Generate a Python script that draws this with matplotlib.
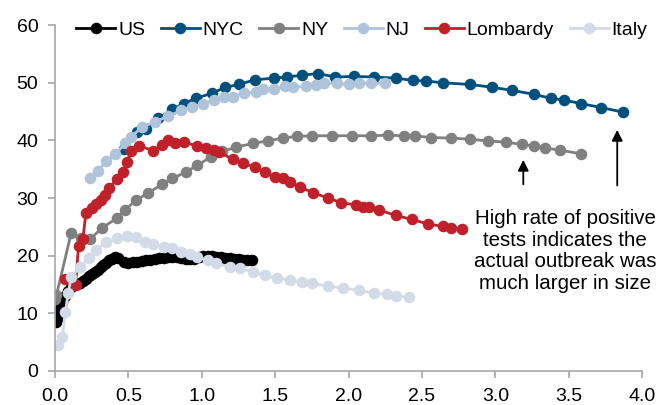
import matplotlib.pyplot as plt

plt.rcParams['font.family'] = ['Liberation Sans', 'DejaVu Sans']

# x and y values
us_x = [0.00, 0.005, 0.01, 0.015, 0.02, 0.03, 0.04, 0.05, 0.07, 0.09, 0.11, 0.13, 0.15, 0.17, 0.19,
        0.21, 0.23, 0.25, 0.27, 0.29, 0.31, 0.33, 0.35, 0.37, 0.39, 0.41, 0.43, 0.47, 0.50, 0.53,
        0.56, 0.59, 0.62, 0.65, 0.68, 0.71, 0.74, 0.77, 0.80, 0.83, 0.86, 0.89, 0.92, 0.95, 0.98,
        1.01, 1.04, 1.07, 1.10, 1.13, 1.16, 1.19, 1.22, 1.25, 1.28, 1.31, 1.34]
us_y = [10.8, 9.5, 8.5, 9.0, 9.8, 10.5, 11.3, 12.0, 13.0, 13.8, 14.5, 14.9, 15.1, 15.3, 15.6,
        16.0, 16.4, 16.8, 17.2, 17.6, 18.0, 18.4, 18.8, 19.2, 19.5, 19.7, 19.6, 18.9, 18.8, 18.9,
        18.9, 19.1, 19.2, 19.3, 19.5, 19.6, 19.6, 19.7, 19.7, 19.8, 19.6, 19.5, 19.4, 19.5, 19.8,
        20.0, 20.0, 19.9, 19.8, 19.7, 19.6, 19.6, 19.5, 19.4, 19.3, 19.2, 19.2]

nyc_x = [0.47, 0.56, 0.62, 0.70, 0.80, 0.88, 0.96, 1.07, 1.16, 1.25, 1.36, 1.49, 1.58, 1.68, 1.79,
         1.91, 2.04, 2.17, 2.32, 2.44, 2.53, 2.64, 2.83, 2.98, 3.11, 3.26, 3.38, 3.47, 3.58, 3.72, 3.87]
nyc_y = [38.5, 41.4, 42.0, 43.8, 45.4, 46.4, 47.3, 48.2, 49.2, 49.7, 50.5, 50.8, 51.0, 51.3, 51.6,
         51.0, 51.1, 51.0, 50.8, 50.4, 50.3, 50.0, 49.7, 49.2, 48.7, 48.0, 47.3, 47.0, 46.4, 45.7, 44.9]

ny_x = [0.00, 0.01, 0.11, 0.18, 0.24, 0.32, 0.42, 0.48, 0.55, 0.63, 0.73, 0.80, 0.89, 0.97, 1.06,
        1.14, 1.23, 1.35, 1.45, 1.55, 1.65, 1.75, 1.89, 2.02, 2.15, 2.27, 2.38, 2.45, 2.56, 2.70,
        2.83, 2.95, 3.07, 3.18, 3.26, 3.34, 3.44, 3.58]
ny_y = [12.5, 13.2, 23.9, 23.0, 22.9, 24.8, 26.5, 28.0, 29.6, 30.8, 32.4, 33.4, 34.5, 35.7, 37.1,
        38.1, 38.8, 39.5, 39.9, 40.4, 40.7, 40.8, 40.8, 40.8, 40.8, 40.9, 40.8, 40.8, 40.5, 40.4,
        40.2, 39.9, 39.7, 39.3, 39.0, 38.7, 38.3, 37.7]

nj_x = [0.24, 0.29, 0.35, 0.41, 0.48, 0.52, 0.59, 0.68, 0.77, 0.86, 0.93, 1.01, 1.08, 1.15, 1.21,
        1.29, 1.37, 1.42, 1.49, 1.57, 1.62, 1.71, 1.78, 1.83, 1.92, 2.00, 2.07, 2.15, 2.25]
nj_y = [33.4, 34.7, 36.4, 37.6, 39.5, 40.6, 42.3, 43.2, 44.2, 45.2, 45.8, 46.3, 47.0, 47.5, 47.5,
        48.2, 48.4, 48.9, 49.0, 49.4, 49.2, 49.4, 49.6, 49.9, 49.9, 49.7, 49.9, 49.9, 49.9]

lom_x = [0.07, 0.14, 0.16, 0.19, 0.21, 0.25, 0.28, 0.31, 0.34, 0.37, 0.42, 0.46, 0.49, 0.52, 0.57,
         0.67, 0.73, 0.77, 0.82, 0.88, 0.97, 1.03, 1.08, 1.12, 1.21, 1.28, 1.36, 1.43, 1.50, 1.55,
         1.60, 1.67, 1.76, 1.86, 1.95, 2.05, 2.10, 2.14, 2.21, 2.32, 2.43, 2.54, 2.64, 2.70, 2.77]
lom_y = [16.0, 14.9, 21.7, 22.9, 27.4, 28.2, 29.0, 29.6, 30.5, 31.7, 33.3, 34.5, 36.2, 38.2, 39.1,
         38.2, 39.2, 40.0, 39.5, 39.7, 39.0, 38.6, 38.3, 38.0, 36.7, 36.0, 35.4, 34.5, 33.6, 33.4,
         32.8, 31.9, 30.9, 30.0, 29.2, 28.8, 28.4, 28.4, 27.9, 27.0, 26.3, 25.5, 25.1, 24.8, 24.6]

italy_x = [0.02, 0.05, 0.07, 0.09, 0.11, 0.17, 0.23, 0.28, 0.35, 0.42, 0.49, 0.55, 0.61, 0.67, 0.74,
           0.80, 0.86, 0.92, 0.97, 1.04, 1.10, 1.19, 1.26, 1.35, 1.43, 1.51, 1.60, 1.68, 1.75, 1.86,
           1.96, 2.07, 2.17, 2.26, 2.32, 2.41]
italy_y = [4.5, 5.9, 10.2, 13.5, 16.3, 18.0, 19.6, 21.0, 22.4, 23.0, 23.4, 23.2, 22.4, 22.0, 21.5,
           21.3, 20.6, 20.3, 19.8, 19.2, 18.7, 18.0, 17.8, 17.2, 16.6, 16.1, 15.8, 15.4, 15.2, 14.7,
           14.4, 14.0, 13.5, 13.3, 13.0, 12.8]

series = [
    ('US', us_x, us_y, '#000000'),
    ('NYC', nyc_x, nyc_y, '#00507D'),
    ('NY', ny_x, ny_y, '#808080'),
    ('NJ', nj_x, nj_y, '#AFC3DA'),
    ('Lombardy', lom_x, lom_y, '#C0202A'),
    ('Italy', italy_x, italy_y, '#D2DBE7'),
]

fig = plt.figure(figsize=(6.59, 4.05), dpi=100)
ax = fig.add_axes([0.0835, 0.084, 0.891, 0.854])

for name, xs, ys, col in series:
    ax.plot(xs, ys, color=col, lw=2, marker='o', ms=7.3, label=name)

ax.set_xlim(0, 4.0)
ax.set_ylim(0, 60)
ax.set_xticks([0, 0.5, 1.0, 1.5, 2.0, 2.5, 3.0, 3.5, 4.0])
ax.set_xticklabels(['0.0', '0.5', '1.0', '1.5', '2.0', '2.5', '3.0', '3.5', '4.0'])
ax.set_yticks(range(0, 61, 10))
for s in ['top', 'right']:
    ax.spines[s].set_visible(False)
for s in ['left', 'bottom']:
    ax.spines[s].set_color('#A6A6A6')
    ax.spines[s].set_linewidth(1.2)
ax.tick_params(colors='#A6A6A6', labelcolor='black', labelsize=14, length=5, width=1.2)
ax.tick_params(axis='y', pad=7)
ax.tick_params(axis='x', pad=7)

ax.annotate('', xy=(3.19, 37.1), xytext=(3.19, 31.9),
            arrowprops=dict(arrowstyle='-|>', color='black', lw=1.3, mutation_scale=16))
ax.annotate('', xy=(3.83, 42.3), xytext=(3.83, 31.7),
            arrowprops=dict(arrowstyle='-|>', color='black', lw=1.3, mutation_scale=16))
ax.text(3.475, 20.8, 'High rate of positive\ntests indicates the\nactual outbreak was\nmuch larger in size',
        ha='center', va='center', fontsize=14.8, linespacing=1.16)

ax.legend(loc='center left', bbox_to_anchor=(0.116, 0.926), bbox_transform=fig.transFigure,
          ncol=6, frameon=False, fontsize=14, handlelength=2.0, handletextpad=0.15,
          columnspacing=0.8, borderaxespad=0, borderpad=0)

plt.savefig('out.png', dpi=100)
